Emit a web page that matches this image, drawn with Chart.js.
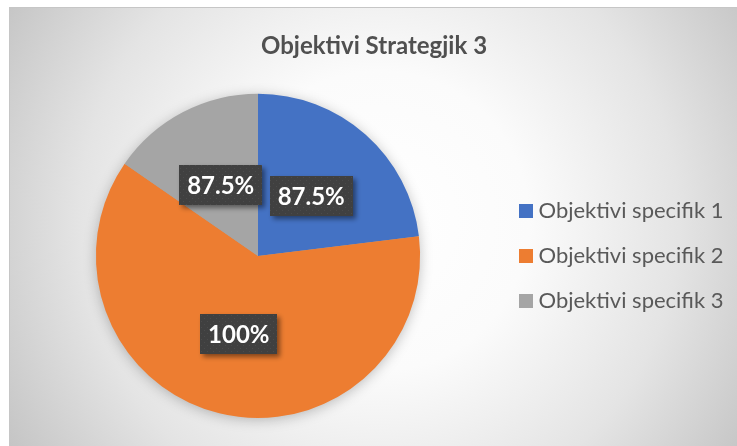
<!DOCTYPE html>
<html><head><meta charset="utf-8">
<script src="https://cdn.jsdelivr.net/npm/chart.js@4/dist/chart.umd.min.js"></script>
<style>
html,body{margin:0;padding:0;width:737px;height:446px;overflow:hidden;background:#ffffff;}
#bg{position:absolute;left:9px;top:7px;width:760px;height:460px;box-sizing:border-box;border:1px solid #c6c6c6;
background:radial-gradient(circle at 369px 213px,#ffffff 0px,#fbfbfb 150px,#e4e4e4 300px,#c3c3c3 440px);}
#wrap{position:absolute;left:0;top:0;width:737px;height:446px;}
</style></head><body>
<div id="bg"></div>
<div id="wrap"><canvas id="c" width="737" height="446"></canvas></div>
<script>
const chartTitle = 'Objektivi Strategjik 3';
const categories = ['Objektivi specifik 1', 'Objektivi specifik 2', 'Objektivi specifik 3'];
const sliceValues = [3, 8, 2];
const labelTexts = ['87.5%', '100%', '87.5%'];
const sliceColors = ['#4472C4', '#ED7D31', '#A5A5A5'];

const FONT = 'Lato';
const legendFontSize = 22;
const legendBoxW = 3;      // layout width of marker slot
const legendBoxH = 14;     // visible square size
const legendPad = 23;
const legendX = 524.5;     // left of legend item slot
const pieCenterX = 258;

// measure legend text to place legend and pie
const mctx = document.createElement('canvas').getContext('2d');
mctx.font = legendFontSize + 'px ' + FONT;
let maxW = 0;
categories.forEach(t => { maxW = Math.max(maxW, mctx.measureText(t).width); });
const colW = legendBoxW + legendFontSize / 2 + maxW;
const padR = 737 - legendX - 10 - colW;
const padL = 2 * pieCenterX - (legendX - legendPad);

// dotted dark pattern for labels
const pc = document.createElement('canvas');
pc.width = 6; pc.height = 6;
const pctx = pc.getContext('2d');
pctx.fillStyle = '#404040'; pctx.fillRect(0, 0, 6, 6);
pctx.fillStyle = '#4b4b4b';
pctx.fillRect(0, 0, 1, 1); pctx.fillRect(3, 3, 1, 1);
let labelPattern = null;

const pieShadow = {
  id: 'pieShadow',
  beforeDatasetsDraw(chart) {
    const meta = chart.getDatasetMeta(0);
    if (!meta.data.length) return;
    const a = meta.data[0];
    const ctx = chart.ctx;
    ctx.save();
    ctx.shadowColor = 'rgba(0,0,0,0.28)';
    ctx.shadowBlur = 14;
    ctx.shadowOffsetX = 0;
    ctx.shadowOffsetY = 2;
    ctx.fillStyle = '#A5A5A5';
    ctx.beginPath();
    ctx.arc(a.x, a.y, a.outerRadius - 1, 0, Math.PI * 2);
    ctx.fill();
    ctx.restore();
  }
};

const sliceLabels = {
  id: 'sliceLabels',
  afterDatasetsDraw(chart) {
    const ctx = chart.ctx;
    if (!labelPattern) labelPattern = ctx.createPattern(pc, 'repeat');
    const meta = chart.getDatasetMeta(0);
    meta.data.forEach((arc, i) => {
      const p = arc.getProps(['x', 'y', 'startAngle', 'endAngle', 'outerRadius'], true);
      const mid = (p.startAngle + p.endAngle) / 2;
      const r = p.outerRadius * 0.495;
      const cx = p.x + Math.cos(mid) * r;
      const cy = p.y + Math.sin(mid) * r;
      ctx.save();
      ctx.font = 'bold 24px ' + FONT;
      const tw = ctx.measureText(labelTexts[i]).width;
      const bw = tw + 16, bh = 40;
      ctx.shadowColor = 'rgba(0,0,0,0.45)';
      ctx.shadowBlur = 5;
      ctx.shadowOffsetX = 3;
      ctx.shadowOffsetY = 3;
      ctx.fillStyle = labelPattern;
      ctx.fillRect(Math.round(cx - bw / 2), Math.round(cy - bh / 2), Math.round(bw), bh);
      ctx.restore();
      ctx.save();
      ctx.font = 'bold 24px ' + FONT;
      ctx.fillStyle = '#ffffff';
      ctx.textAlign = 'center';
      ctx.textBaseline = 'middle';
      ctx.fillText(labelTexts[i], cx, cy + 1);
      ctx.restore();
    });
  }
};

new Chart(document.getElementById('c'), {
  type: 'pie',
  data: {
    labels: categories,
    datasets: [{
      data: sliceValues,
      backgroundColor: sliceColors,
      borderWidth: 0,
      hoverOffset: 0
    }]
  },
  options: {
    responsive: false,
    animation: false,
    devicePixelRatio: 1,
    layout: { padding: { left: padL, right: padR, top: 32, bottom: 28 } },
    plugins: {
      title: {
        display: true,
        text: chartTitle,
        color: '#505050',
        font: { family: FONT, size: 24, weight: 'bold', lineHeight: 1.2 },
        padding: { top: 0, bottom: 33 }
      },
      legend: {
        display: true,
        position: 'right',
        fullSize: false,
        labels: {
          color: '#595959',
          font: { family: FONT, size: legendFontSize },
          usePointStyle: true,
          pointStyle: 'rect',
          boxWidth: legendBoxW,
          boxHeight: legendBoxH,
          padding: legendPad
        }
      },
      tooltip: { enabled: false }
    }
  },
  plugins: [pieShadow, sliceLabels]
});
</script>
</body></html>
